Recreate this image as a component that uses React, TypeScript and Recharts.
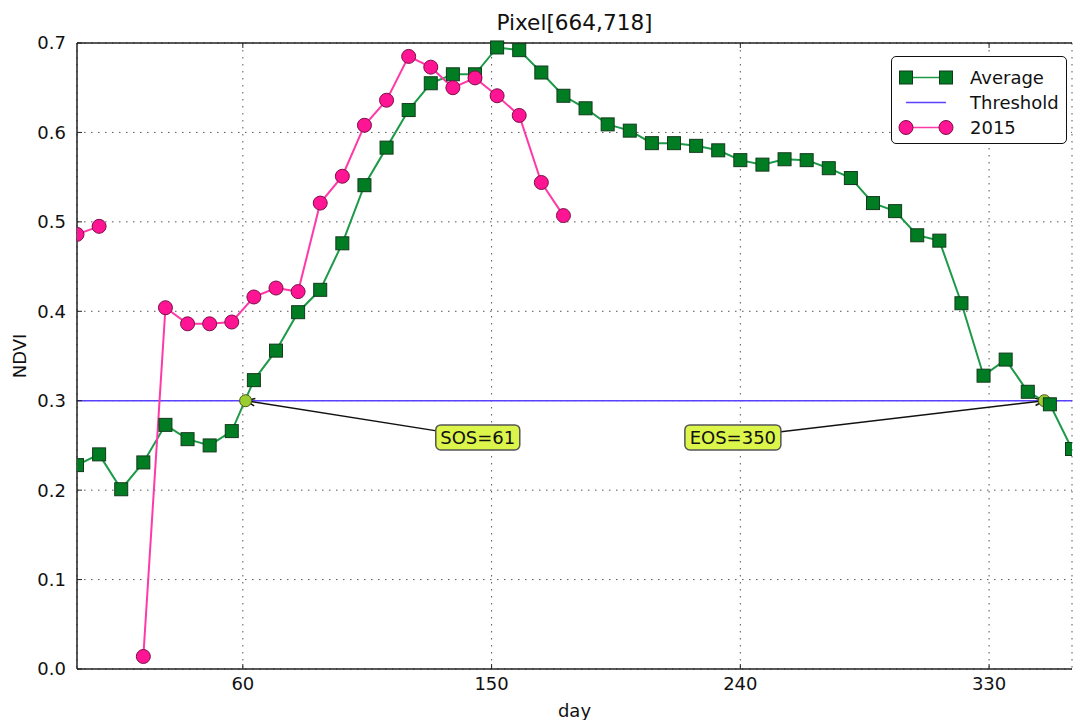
import { LineChart, Line, XAxis, YAxis, CartesianGrid, ReferenceLine, ReferenceDot, Legend, Label } from 'recharts'

const FONT = '"DejaVu Sans", sans-serif'

// day of year, 8-day composites
const days = [
  0, 8, 16, 24, 32, 40, 48, 56, 64, 72, 80, 88, 96, 104, 112, 120, 128, 136, 144, 152, 160, 168, 176,
  184, 192, 200, 208, 216, 224, 232, 240, 248, 256, 264, 272, 280, 288, 296, 304, 312, 320, 328, 336,
  344, 352, 360,
]

const average = [
  0.228, 0.24, 0.201, 0.231, 0.273, 0.257, 0.25, 0.266, 0.323, 0.356, 0.399, 0.424, 0.476, 0.541,
  0.583, 0.625, 0.655, 0.665, 0.665, 0.695, 0.692, 0.667, 0.641, 0.627, 0.609, 0.602, 0.588, 0.588,
  0.585, 0.58, 0.569, 0.564, 0.57, 0.569, 0.56, 0.549, 0.521, 0.512, 0.485, 0.479, 0.409, 0.328,
  0.346, 0.31, 0.296, 0.246,
]

// 2015 only up to day 176, day 16 missing
const year2015 = [
  0.486, 0.495, null, 0.014, 0.404, 0.386, 0.386, 0.388, 0.416, 0.426, 0.422, 0.521, 0.551, 0.608,
  0.636, 0.685, 0.673, 0.65, 0.661, 0.641, 0.619, 0.544, 0.507,
]

const threshold = 0.3
const xTicks = [60, 150, 240, 330]
const yTicks = [0, 0.1, 0.2, 0.3, 0.4, 0.5, 0.6, 0.7]
const yMax = 0.7

const annotations = [
  { label: 'SOS=61', day: 61, textDay: 145, textValue: 0.259 },
  { label: 'EOS=350', day: 350, textDay: 237.3, textValue: 0.259 },
]

const GREEN_LINE = '#1c9a48'
const GREEN_FILL = '#007d22'
const PINK_LINE = '#ff3aa8'
const PINK_FILL = '#ff1493'
const BLUE = '#5a40ff'

const data = days.map((d, i) => ({
  day: d,
  average: average[i],
  y2015: i < year2015.length ? year2015[i] : undefined,
}))

function SquareDot(props: any) {
  const { cx, cy, index } = props
  if (cx == null || cy == null) return <g key={`sq-${index}`} />
  return (
    <rect
      key={`sq-${index}`}
      x={cx - 6.5}
      y={cy - 6.5}
      width={13}
      height={13}
      fill={GREEN_FILL}
      stroke="#123a1c"
      strokeWidth={1}
    />
  )
}

function makeAnnotation(label: string) {
  return (props: any) => {
    const { x1, y1, x2, y2 } = props
    const ang = Math.atan2(y1 - y2, x1 - x2)
    const head = 10
    const spread = 0.38
    const w = label.length * 12 + 12
    const h = 25
    return (
      <g>
        <line x1={x1} y1={y1} x2={x2} y2={y2} stroke="#111" strokeWidth={1.5} />
        <polyline
          points={`${x2 + head * Math.cos(ang + spread)},${y2 + head * Math.sin(ang + spread)} ${x2},${y2} ${
            x2 + head * Math.cos(ang - spread)
          },${y2 + head * Math.sin(ang - spread)}`}
          fill="none"
          stroke="#111"
          strokeWidth={1.5}
        />
        <rect x={x1 - w / 2} y={y1 - h / 2} width={w} height={h} rx={5} fill="#dcf54a" stroke="#555" strokeWidth={1.5} />
        <text x={x1} y={y1 + 6.5} textAnchor="middle" fontSize={18} fontFamily={FONT} fill="#111">
          {label}
        </text>
      </g>
    )
  }
}

const legendItems = [
  { name: 'Average', color: GREEN_LINE, marker: 'square' },
  { name: 'Threshold', color: BLUE, marker: 'none' },
  { name: '2015', color: PINK_LINE, marker: 'circle' },
]

function LegendBox() {
  return (
    <div
      style={{
        width: 176,
        height: 88,
        border: '1.5px solid #111',
        borderRadius: 5,
        background: '#fff',
        boxSizing: 'border-box',
        paddingTop: 8,
        fontFamily: FONT,
        fontSize: 18,
      }}
    >
      {legendItems.map((it) => (
        <div key={it.name} style={{ display: 'flex', alignItems: 'center', height: 25 }}>
          <svg width={78} height={25}>
            <line x1={14} x2={54} y1={12.5} y2={12.5} stroke={it.color} strokeWidth={1.5} />
            {it.marker === 'square' &&
              [14, 54].map((x) => (
                <rect key={x} x={x - 6.5} y={6} width={13} height={13} fill={GREEN_FILL} stroke="#123a1c" />
              ))}
            {it.marker === 'circle' &&
              [14, 54].map((x) => <circle key={x} cx={x} cy={12.5} r={7} fill={PINK_FILL} stroke="#7a1048" />)}
          </svg>
          <span style={{ color: '#111' }}>{it.name}</span>
        </div>
      ))}
    </div>
  )
}

export default function App() {
  return (
    <div style={{ position: 'absolute', left: 0, top: 0, background: '#fff' }}>
      <LineChart width={1073} height={720} data={data} margin={{ top: 42, right: 1, left: 0, bottom: 0 }}>
        <CartesianGrid stroke="#555" strokeDasharray="1.5 5.5" />
        <XAxis
          dataKey="day"
          type="number"
          domain={[0, 360]}
          ticks={xTicks}
          allowDataOverflow
          height={51}
          tickSize={-5}
          tickMargin={13}
          axisLine={{ stroke: '#222', strokeWidth: 1.5 }}
          tickLine={{ stroke: '#222' }}
          tick={{ fill: '#111', fontSize: 18, fontFamily: FONT }}
        >
          <Label value="day" position="insideBottom" offset={3} style={{ fontSize: 18, fontFamily: FONT, fill: '#111' }} />
        </XAxis>
        <XAxis
          xAxisId="top"
          orientation="top"
          dataKey="day"
          type="number"
          domain={[0, 360]}
          ticks={xTicks}
          allowDataOverflow
          height={1}
          tickSize={-5}
          tickFormatter={() => ''}
          axisLine={false}
          tickLine={{ stroke: '#222' }}
        />
        <YAxis
          type="number"
          domain={[0, yMax]}
          ticks={yTicks}
          width={77}
          tickSize={-5}
          tickMargin={16}
          tickFormatter={(v: number) => v.toFixed(1)}
          axisLine={{ stroke: '#222', strokeWidth: 1.5 }}
          tickLine={{ stroke: '#222' }}
          tick={{ fill: '#111', fontSize: 18, fontFamily: FONT }}
        >
          <Label
            value="NDVI"
            angle={-90}
            position="insideLeft"
            offset={20}
            style={{ textAnchor: 'middle', fontSize: 18, fontFamily: FONT, fill: '#111' }}
          />
        </YAxis>
        <ReferenceLine
          y={yMax}
          stroke="#222"
          strokeWidth={1.5}
          label={{
            value: 'Pixel[664,718]',
            position: 'top',
            offset: 13,
            fontSize: 21.6,
            fontFamily: FONT,
            fill: '#111',
          }}
        />
        <ReferenceLine y={threshold} stroke={BLUE} strokeWidth={1.5} />
        <Line
          dataKey="average"
          name="Average"
          stroke={GREEN_LINE}
          strokeWidth={2}
          dot={SquareDot}
          activeDot={false}
          isAnimationActive={false}
        />
        <Line
          dataKey="y2015"
          name="2015"
          stroke={PINK_LINE}
          strokeWidth={2}
          dot={{ r: 7, fill: PINK_FILL, stroke: '#7a1048', strokeWidth: 1 }}
          activeDot={false}
          connectNulls={false}
          isAnimationActive={false}
        />
        {annotations.map((a) => (
          <ReferenceLine
            key={a.label}
            segment={[
              { x: a.textDay, y: a.textValue },
              { x: a.day, y: threshold },
            ]}
            shape={makeAnnotation(a.label)}
          />
        ))}
        {annotations.map((a) => (
          <ReferenceDot
            key={`dot-${a.label}`}
            x={a.day}
            y={threshold}
            r={6}
            fill="#9acd32"
            stroke="#4a5a10"
            strokeWidth={1}
          />
        ))}
        <Legend
          layout="vertical"
          align="center"
          verticalAlign="middle"
          content={() => <LegendBox />}
          wrapperStyle={{ left: 891, top: 56, width: 176 }}
        />
      </LineChart>
    </div>
  )
}
